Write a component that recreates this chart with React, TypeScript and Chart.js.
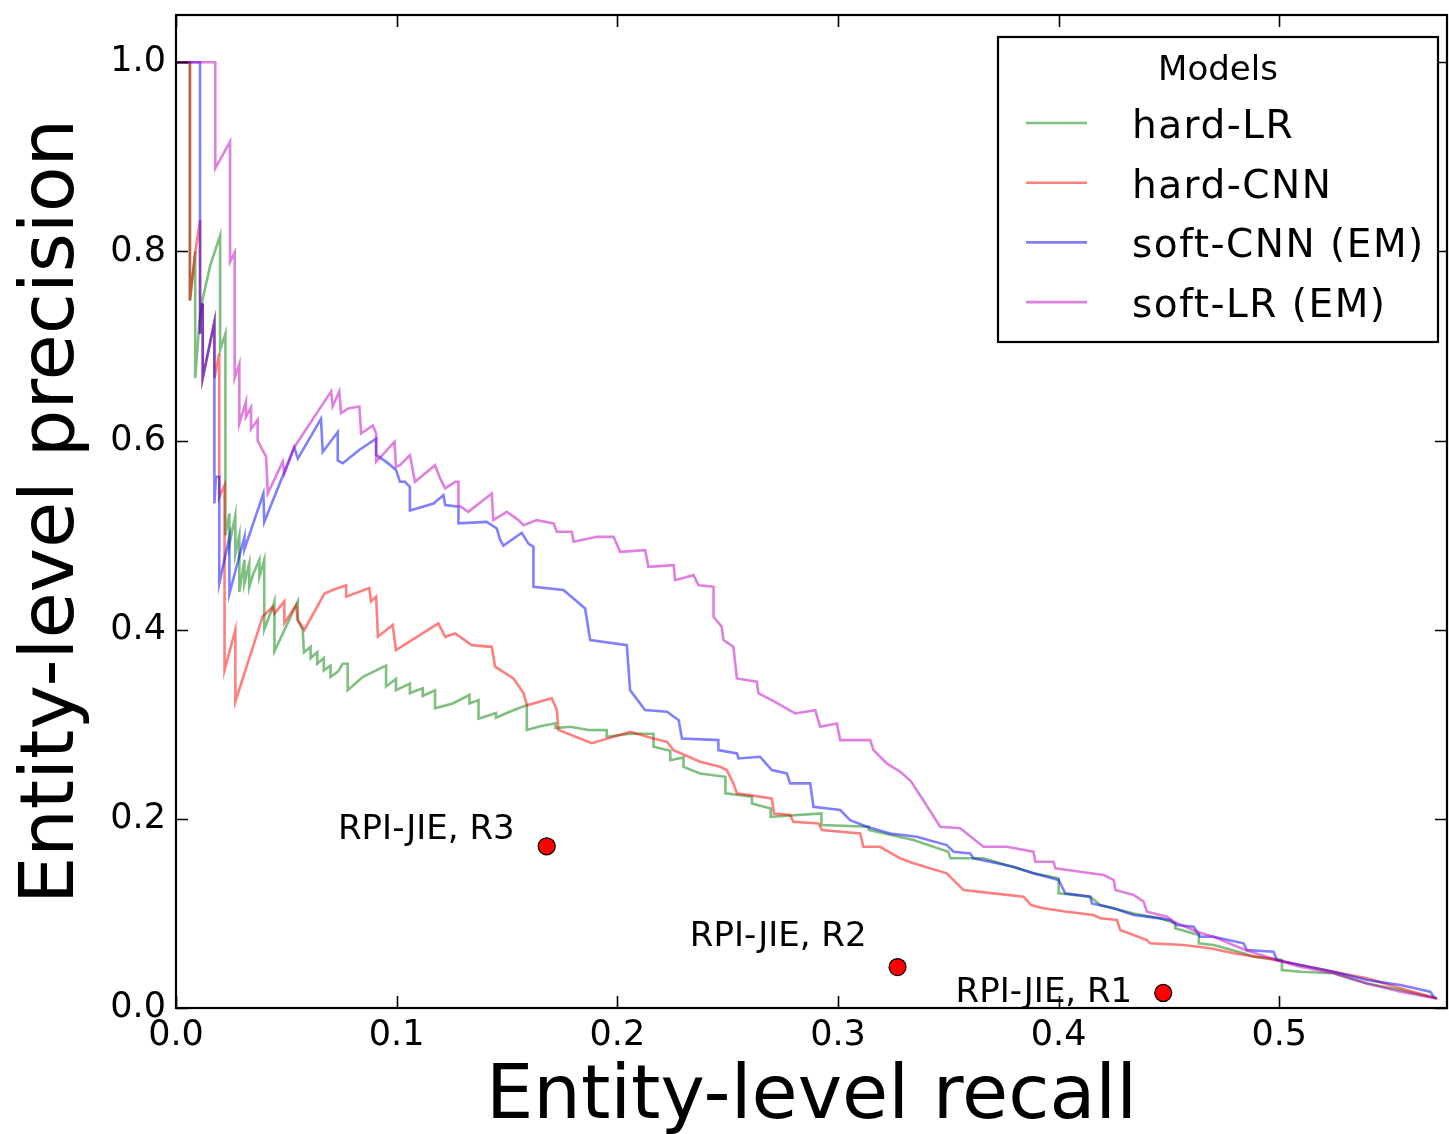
import React, { useEffect, useRef } from "react";
import { Chart, registerables } from "chart.js";

Chart.register(...registerables);

const FONT = "'DejaVu Sans', 'Liberation Sans', sans-serif";

// ---------- data ----------
const xTickValues = [0, 0.1, 0.2, 0.3, 0.4, 0.5];
const yTickValues = [0, 0.2, 0.4, 0.6, 0.8, 1.0];
const seriesLabels = ["hard-LR", "hard-CNN", "soft-CNN (EM)", "soft-LR (EM)"];
const legendTitle = "Models";
const xTitle = "Entity-level recall";
const yTitle = "Entity-level precision";

// [recall, precision]
const hardLR: [number, number][] = [
  [0, 1.0], [0.0063, 1.0], [0.0063, 0.748], [0.0087, 0.8], [0.0087, 0.666], [0.0106, 0.725], [0.0121, 0.75],
  [0.0155, 0.785], [0.02, 0.817], [0.02, 0.696], [0.0224, 0.713], [0.0224, 0.5], [0.0242, 0.523], [0.0242, 0.49],
  [0.0269, 0.521], [0.0269, 0.48], [0.0287, 0.5], [0.0287, 0.44], [0.031, 0.474], [0.031, 0.449], [0.0332, 0.47],
  [0.0332, 0.445], [0.0348, 0.458], [0.0378, 0.474], [0.0378, 0.456], [0.04, 0.474], [0.04, 0.4], [0.0438, 0.424],
  [0.0446, 0.43], [0.0446, 0.377], [0.0552, 0.43], [0.0552, 0.41], [0.0574, 0.4], [0.058, 0.376], [0.061, 0.382],
  [0.061, 0.37], [0.064, 0.376], [0.064, 0.364], [0.067, 0.37], [0.067, 0.357], [0.07, 0.362], [0.07, 0.35],
  [0.0735, 0.356], [0.0755, 0.364], [0.0778, 0.364], [0.0778, 0.336], [0.0846, 0.35], [0.0907, 0.357],
  [0.0952, 0.362], [0.0952, 0.34], [0.0997, 0.348], [0.0997, 0.336], [0.106, 0.343], [0.106, 0.333],
  [0.1118, 0.338], [0.1118, 0.33], [0.1174, 0.336], [0.1174, 0.317], [0.1254, 0.322], [0.133, 0.331],
  [0.133, 0.322], [0.1371, 0.3256], [0.1371, 0.306], [0.145, 0.312], [0.145, 0.307], [0.152, 0.314],
  [0.159, 0.3203], [0.159, 0.294], [0.165, 0.298], [0.172, 0.301], [0.172, 0.296], [0.1786, 0.2974],
  [0.187, 0.294], [0.1952, 0.2938], [0.1952, 0.2868], [0.2058, 0.29], [0.2164, 0.29], [0.2164, 0.2763],
  [0.224, 0.272], [0.224, 0.262], [0.23, 0.265], [0.23, 0.255], [0.2375, 0.248], [0.249, 0.2445], [0.249, 0.227],
  [0.261, 0.2234], [0.261, 0.2163], [0.2695, 0.211], [0.2695, 0.2022], [0.2925, 0.2057], [0.2925, 0.1935],
  [0.314, 0.1917], [0.314, 0.1882], [0.3342, 0.1776], [0.35, 0.1653], [0.351, 0.1583], [0.3659, 0.1583],
  [0.3735, 0.153], [0.3886, 0.1424], [0.4, 0.1371], [0.4, 0.1212], [0.4143, 0.1177], [0.4189, 0.1089],
  [0.434, 0.1], [0.446, 0.0948], [0.4528, 0.0895], [0.4528, 0.0842], [0.4635, 0.0772], [0.4635, 0.0684],
  [0.4702, 0.0666], [0.4838, 0.0578], [0.4884, 0.0543], [0.5012, 0.0508], [0.5012, 0.0402], [0.5095, 0.0384],
  [0.5246, 0.0367], [0.5397, 0.026], [0.5549, 0.019], [0.5715, 0.01],
];

const hardCNN: [number, number][] = [
  [0, 1.0], [0.0063, 1.0], [0.0063, 0.748], [0.0088, 0.8], [0.0109, 0.833], [0.0109, 0.713], [0.0121, 0.745],
  [0.0121, 0.666], [0.0174, 0.7255], [0.0174, 0.666], [0.0196, 0.692], [0.0196, 0.54], [0.022, 0.553],
  [0.022, 0.357], [0.0269, 0.4], [0.0269, 0.324], [0.0393, 0.414], [0.0438, 0.424], [0.0446, 0.417],
  [0.0491, 0.43], [0.0491, 0.407], [0.0544, 0.426], [0.0552, 0.41], [0.0582, 0.4], [0.0672, 0.438],
  [0.071, 0.442], [0.0771, 0.447], [0.0771, 0.435], [0.0876, 0.444], [0.0884, 0.43], [0.0907, 0.435],
  [0.0915, 0.3926], [0.0982, 0.405], [0.0997, 0.3785], [0.1189, 0.4066], [0.122, 0.3925], [0.1265, 0.396],
  [0.134, 0.3837], [0.1431, 0.3819], [0.1446, 0.361], [0.1529, 0.3485], [0.1575, 0.333], [0.159, 0.32],
  [0.1703, 0.3274], [0.1726, 0.315], [0.1733, 0.294], [0.1884, 0.28], [0.2058, 0.292], [0.2164, 0.285],
  [0.2225, 0.2815], [0.2255, 0.2727], [0.2375, 0.2604], [0.2466, 0.2551], [0.2496, 0.2516], [0.2526, 0.2375],
  [0.2542, 0.227], [0.27, 0.2216], [0.271, 0.2057], [0.2783, 0.204], [0.2798, 0.1969], [0.2912, 0.1952],
  [0.2927, 0.1882], [0.3101, 0.1846], [0.3115, 0.1705], [0.3191, 0.1705], [0.3282, 0.1583], [0.3342, 0.153],
  [0.3493, 0.1424], [0.3569, 0.1247], [0.3705, 0.1212], [0.3841, 0.1177], [0.3875, 0.1089], [0.3932, 0.1054],
  [0.4037, 0.1018], [0.4158, 0.0983], [0.4189, 0.0948], [0.4264, 0.093], [0.4279, 0.0825], [0.44, 0.0719],
  [0.4415, 0.0684], [0.4566, 0.0666], [0.4687, 0.0631], [0.4793, 0.0578], [0.4944, 0.0525], [0.5095, 0.0455],
  [0.5246, 0.0384], [0.5397, 0.0314], [0.5549, 0.0208], [0.5715, 0.01],
];

const softCNN: [number, number][] = [
  [0, 1.0], [0.0109, 1.0], [0.0109, 0.833], [0.0109, 0.713], [0.0121, 0.745], [0.0121, 0.666], [0.0174, 0.7255],
  [0.0174, 0.5336], [0.0181, 0.5617], [0.0196, 0.5617], [0.0196, 0.449], [0.0242, 0.498], [0.0242, 0.438],
  [0.031, 0.498], [0.031, 0.485], [0.0396, 0.544], [0.04, 0.514], [0.0536, 0.593], [0.0552, 0.581],
  [0.0657, 0.623], [0.0665, 0.588], [0.0733, 0.609], [0.0733, 0.579], [0.0756, 0.576], [0.083, 0.59],
  [0.0907, 0.602], [0.0907, 0.585], [0.095, 0.578], [0.0997, 0.569], [0.1015, 0.5564], [0.1038, 0.5564],
  [0.106, 0.551], [0.106, 0.526], [0.1167, 0.5335], [0.1212, 0.5423], [0.122, 0.5317], [0.128, 0.53],
  [0.128, 0.5124], [0.1408, 0.514], [0.1454, 0.507], [0.1469, 0.495], [0.1484, 0.489], [0.1567, 0.5025],
  [0.1597, 0.491], [0.162, 0.4877], [0.162, 0.4454], [0.1756, 0.442], [0.1854, 0.4225], [0.1877, 0.389],
  [0.2043, 0.3837], [0.2058, 0.336], [0.2126, 0.315], [0.2225, 0.3133], [0.2278, 0.3044], [0.2293, 0.285],
  [0.2458, 0.2833], [0.2458, 0.2727], [0.2542, 0.2692], [0.2549, 0.2639], [0.2647, 0.2657], [0.27, 0.2516],
  [0.2768, 0.2481], [0.2783, 0.2375], [0.2874, 0.2375], [0.2889, 0.2128], [0.301, 0.2093], [0.3055, 0.1987],
  [0.3131, 0.1917], [0.3237, 0.1846], [0.3357, 0.1811], [0.3493, 0.1723], [0.3524, 0.1653], [0.3599, 0.1635],
  [0.3614, 0.1583], [0.3796, 0.1494], [0.3886, 0.1424], [0.4, 0.1353], [0.403, 0.1212], [0.4143, 0.1177],
  [0.4151, 0.1106], [0.4249, 0.1054], [0.434, 0.0983], [0.446, 0.0948], [0.4506, 0.093], [0.4536, 0.0877],
  [0.4612, 0.086], [0.4642, 0.0754], [0.4702, 0.0754], [0.4838, 0.0684], [0.4853, 0.0613], [0.4974, 0.0596],
  [0.4989, 0.0508], [0.5095, 0.0455], [0.5246, 0.0384], [0.5397, 0.0296], [0.5549, 0.0243], [0.5684, 0.0173],
  [0.5705, 0.0102],
];

const softLR: [number, number][] = [
  [0, 1.0], [0.0178, 1.0], [0.0178, 0.888], [0.0245, 0.916], [0.0245, 0.789], [0.0266, 0.799], [0.0266, 0.666],
  [0.0287, 0.681], [0.0287, 0.618], [0.0317, 0.641], [0.0317, 0.625], [0.034, 0.635], [0.034, 0.612],
  [0.037, 0.622], [0.037, 0.6], [0.0408, 0.583], [0.0416, 0.544], [0.0484, 0.578], [0.0491, 0.565],
  [0.0536, 0.593], [0.0703, 0.652], [0.071, 0.636], [0.074, 0.652], [0.0748, 0.629], [0.078, 0.634],
  [0.0831, 0.636], [0.0839, 0.6075], [0.0892, 0.616], [0.0907, 0.6075], [0.0907, 0.5776], [0.099, 0.5987],
  [0.0997, 0.5723], [0.1015, 0.574], [0.106, 0.5846], [0.1083, 0.5564], [0.1174, 0.574], [0.1197, 0.56],
  [0.122, 0.5494], [0.1265, 0.5564], [0.128, 0.5564], [0.128, 0.5317], [0.1325, 0.5247], [0.1431, 0.544],
  [0.1438, 0.5159], [0.1499, 0.5247], [0.1552, 0.5159], [0.1575, 0.5106], [0.1635, 0.5159], [0.1711, 0.5124],
  [0.1726, 0.5036], [0.1794, 0.5036], [0.1802, 0.493], [0.1907, 0.4982], [0.1983, 0.4982], [0.2013, 0.4824],
  [0.2126, 0.4841], [0.2141, 0.4665], [0.2255, 0.4683], [0.2262, 0.4524], [0.2345, 0.4577], [0.2368, 0.4471],
  [0.2436, 0.4454], [0.2436, 0.4137], [0.2473, 0.4031], [0.2481, 0.389], [0.2526, 0.382], [0.2542, 0.3485],
  [0.2632, 0.345], [0.264, 0.3327], [0.27, 0.3256], [0.2806, 0.3115], [0.2897, 0.315], [0.2919, 0.2974],
  [0.2995, 0.3009], [0.301, 0.2833], [0.3146, 0.2833], [0.3161, 0.2727], [0.3221, 0.2586], [0.3282, 0.2498],
  [0.333, 0.24], [0.338, 0.222], [0.3463, 0.1917], [0.3554, 0.19], [0.3659, 0.1705], [0.3765, 0.1705],
  [0.3886, 0.1653], [0.3894, 0.1547], [0.3977, 0.1547], [0.3985, 0.1477], [0.4098, 0.1441], [0.4204, 0.1406],
  [0.425, 0.1353], [0.4257, 0.1247], [0.434, 0.1195], [0.4385, 0.1124], [0.44, 0.1018], [0.4491, 0.0966],
  [0.4521, 0.0913], [0.4627, 0.0807], [0.4702, 0.0754], [0.4846, 0.0613], [0.4989, 0.0508], [0.5095, 0.0437],
  [0.5246, 0.0367], [0.5397, 0.026], [0.5549, 0.0173], [0.5715, 0.01],
];

const systemLabels = ["RPI-JIE, R3", "RPI-JIE, R2", "RPI-JIE, R1"];
const systemRecall = [0.168, 0.327, 0.4474];
const systemPrecision = [0.171, 0.0433, 0.0159];

// ---------- styles ----------
const seriesColors = [
  "rgba(0,128,0,0.5)",
  "rgba(255,0,0,0.5)",
  "rgba(0,0,255,0.5)",
  "rgba(191,0,191,0.5)",
];
const labelOffsets: [number, number][] = [
  [-32, -7],
  [-31, -21],
  [-31, 9],
];

const framePlugin = {
  id: "frameTicks",
  afterDraw(chart: any) {
    const { ctx, chartArea: ca, scales } = chart;
    ctx.save();
    ctx.strokeStyle = "#000";
    ctx.lineWidth = 1.6;
    const tl = 12;
    ctx.beginPath();
    for (const v of xTickValues) {
      const px = Math.round(scales.x.getPixelForValue(v)) + 0.5;
      ctx.moveTo(px, ca.bottom);
      ctx.lineTo(px, ca.bottom - tl);
      ctx.moveTo(px, ca.top);
      ctx.lineTo(px, ca.top + tl);
    }
    for (const v of yTickValues) {
      const py = Math.round(scales.y.getPixelForValue(v)) + 0.5;
      ctx.moveTo(ca.left, py);
      ctx.lineTo(ca.left + tl, py);
      ctx.moveTo(ca.right, py);
      ctx.lineTo(ca.right - tl, py);
    }
    ctx.stroke();
    ctx.lineWidth = 2.2;
    ctx.strokeRect(ca.left, ca.top, ca.right - ca.left, ca.bottom - ca.top);

    // legend
    const left = ca.right - 449;
    const right = ca.right - 9;
    const top = ca.top + 22;
    const bottom = ca.top + 327;
    ctx.fillStyle = "#fff";
    ctx.fillRect(left, top, right - left, bottom - top);
    ctx.lineWidth = 2.2;
    ctx.strokeRect(left, top, right - left, bottom - top);
    ctx.fillStyle = "#000";
    ctx.font = `34px ${FONT}`;
    ctx.textAlign = "center";
    ctx.textBaseline = "alphabetic";
    ctx.fillText(legendTitle, (left + right) / 2, top + 43);
    ctx.textAlign = "left";
    ctx.font = `39px ${FONT}`;
    (ctx as any).letterSpacing = "1.5px";
    chart.data.datasets.slice(0, seriesLabels.length).forEach((ds: any, i: number) => {
      const ly = top + 86 + i * 59.7;
      ctx.strokeStyle = ds.borderColor;
      ctx.lineWidth = 2.6;
      ctx.beginPath();
      ctx.moveTo(left + 28, ly);
      ctx.lineTo(left + 89, ly);
      ctx.stroke();
      ctx.fillStyle = "#000";
      ctx.fillText(ds.label, left + 134, ly + 15);
    });
    (ctx as any).letterSpacing = "0px";
    ctx.restore();
  },
};

const annotationPlugin = {
  id: "systemLabels",
  afterDatasetsDraw(chart: any) {
    const { ctx } = chart;
    const idx = chart.data.datasets.length - 1;
    const meta = chart.getDatasetMeta(idx);
    ctx.save();
    ctx.fillStyle = "#000";
    ctx.font = `34px ${FONT}`;
    ctx.textAlign = "right";
    ctx.textBaseline = "alphabetic";
    meta.data.forEach((pt: any, i: number) => {
      const [dx, dy] = labelOffsets[i];
      ctx.fillText(systemLabels[i], pt.x + dx, pt.y + dy);
    });
    ctx.restore();
  },
};

export default function App() {
  const ref = useRef<HTMLCanvasElement | null>(null);

  useEffect(() => {
    if (!ref.current) return;
    const series = [hardLR, hardCNN, softCNN, softLR];
    const lineSets = series.map((s, i) => ({
      type: "scatter" as const,
      label: seriesLabels[i],
      data: s.map(([x, y]) => ({ x, y })),
      showLine: true,
      borderColor: seriesColors[i],
      backgroundColor: seriesColors[i],
      borderWidth: 2.6,
      pointRadius: 0,
      pointHoverRadius: 0,
      tension: 0,
      fill: false,
      order: 4 - i,
    }));
    const pointSet = {
      type: "scatter" as const,
      label: "systems",
      data: systemRecall.map((x, i) => ({ x, y: systemPrecision[i] })),
      showLine: false,
      pointRadius: 8.5,
      pointBackgroundColor: "#ff0000",
      pointBorderColor: "#000",
      pointBorderWidth: 1.2,
      order: 0,
    };

    const chart = new Chart(ref.current, {
      type: "scatter",
      data: { datasets: [...lineSets, pointSet] as any },
      options: {
        animation: false,
        responsive: false,
        devicePixelRatio: 1,
        layout: { autoPadding: false, padding: { top: 15, right: 2, left: 0, bottom: 0 } },
        plugins: {
          legend: { display: false },
          tooltip: { enabled: false },
          title: { display: false },
        },
        scales: {
          x: {
            type: "linear",
            position: "bottom",
            min: 0,
            max: 0.576,
            grid: { display: false, drawTicks: false },
            border: { display: false },
            afterBuildTicks: (scale: any) => {
              scale.ticks = xTickValues.map((v) => ({ value: v }));
            },
            afterFit: (scale: any) => {
              scale.height = 126;
              scale.paddingLeft = 0;
              scale.paddingRight = 0;
            },
            ticks: {
              color: "#000",
              font: { family: FONT, size: 35 },
              padding: 7,
              maxRotation: 0,
              callback: (v: any) => Number(v).toFixed(1),
            },
            title: {
              display: true,
              text: xTitle,
              color: "#000",
              font: { family: FONT, size: 75 },
              padding: { top: 0, bottom: -10 },
            },
          },
          y: {
            type: "linear",
            min: 0,
            max: 1.05,
            grid: { display: false, drawTicks: false },
            border: { display: false },
            afterBuildTicks: (scale: any) => {
              scale.ticks = yTickValues.map((v) => ({ value: v }));
            },
            afterFit: (scale: any) => {
              scale.width = 176;
              scale.paddingTop = 0;
              scale.paddingBottom = 0;
            },
            ticks: {
              color: "#000",
              font: { family: FONT, size: 35 },
              padding: 10,
              callback: (v: any) => Number(v).toFixed(1),
            },
            title: {
              display: true,
              text: yTitle,
              color: "#000",
              font: { family: FONT, size: 75 },
              padding: { top: 9, bottom: 0 },
            },
          },
        },
      },
      plugins: [annotationPlugin, framePlugin],
    });
    return () => chart.destroy();
  }, []);

  return (
    <div style={{ position: "absolute", left: 0, top: 0, width: 1449, height: 1134, background: "#fff" }}>
      <canvas ref={ref} width={1449} height={1134} style={{ display: "block", width: 1449, height: 1134 }} />
    </div>
  );
}
